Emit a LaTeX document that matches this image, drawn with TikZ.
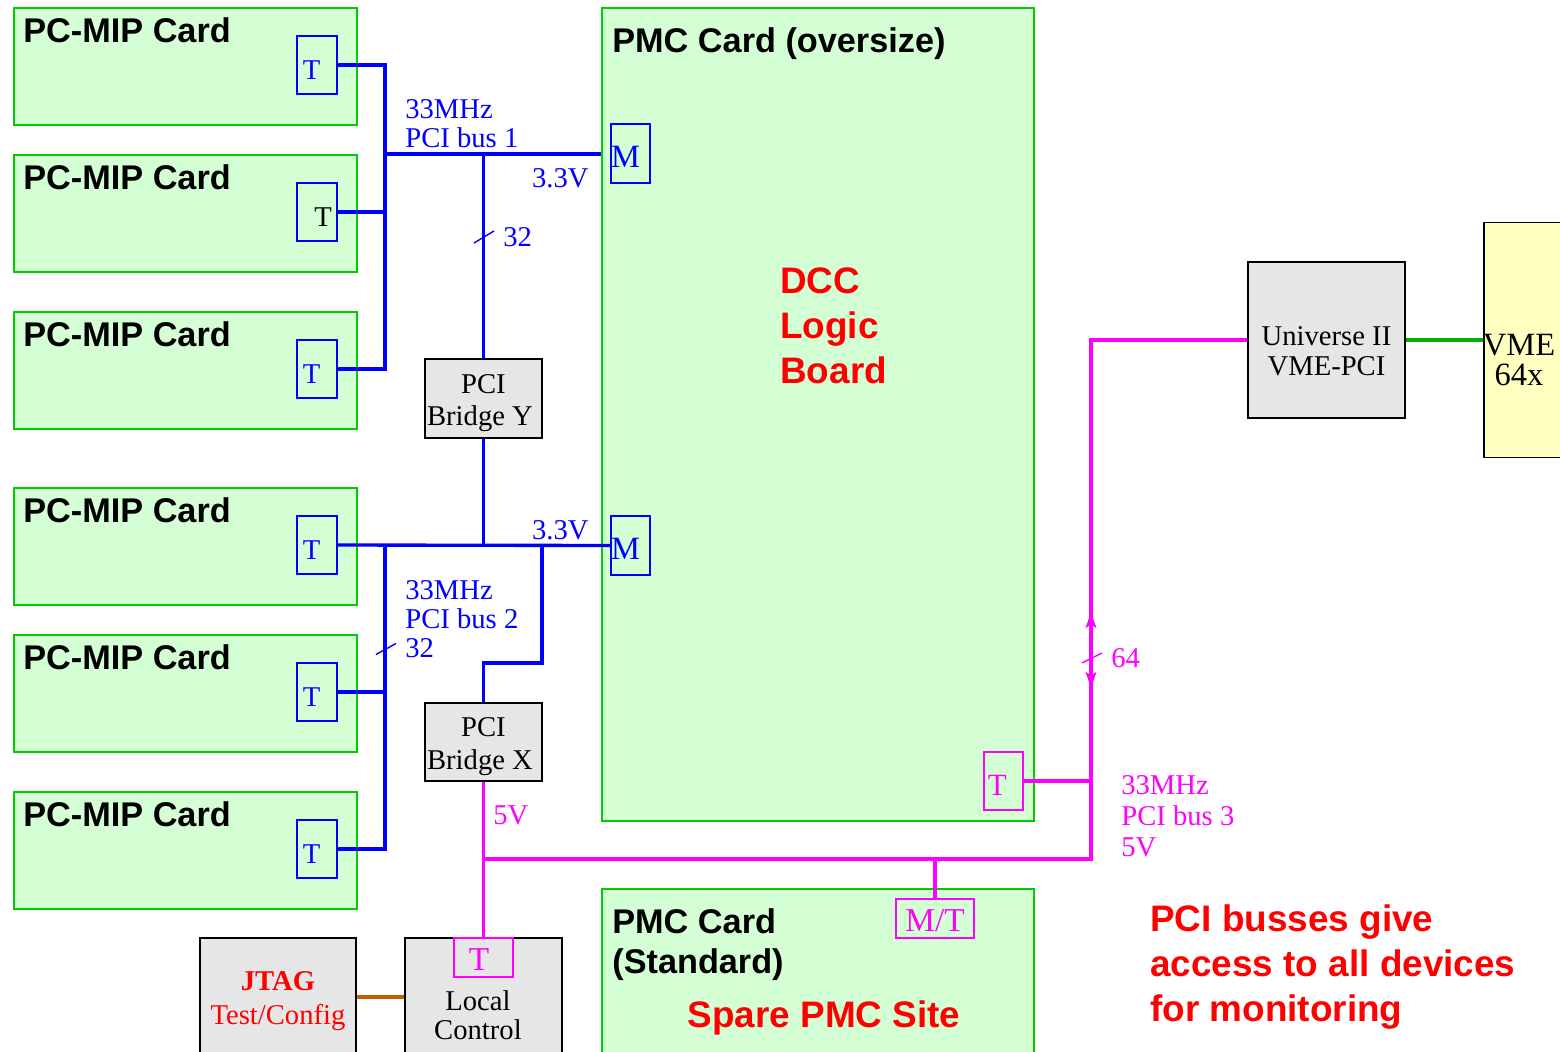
\documentclass[tikz,border=0pt]{standalone}
\usepackage{fontspec}
\setmainfont{Liberation Serif}
\setsansfont{Liberation Sans}
\usepackage{xcolor}
\usetikzlibrary{arrows.meta, positioning, calc}
\definecolor{brdgreen}{RGB}{0,204,0}
\definecolor{cardfill}{RGB}{212,255,212}
\definecolor{boxgray}{RGB}{230,230,230}
\definecolor{vmefill}{RGB}{255,255,192}
\definecolor{vmegreen}{RGB}{0,176,0}
\definecolor{jtagbrown}{RGB}{192,96,0}
\definecolor{busblue}{RGB}{0,0,255}
\definecolor{busmag}{RGB}{255,0,255}
\tikzset{
  card/.style={rectangle, draw=brdgreen, line width=1.1pt, fill=cardfill,
               inner sep=0pt, anchor=north west},
  cardtitle/.style={font=\fontsize{19.5}{22.7}\selectfont\sffamily\bfseries,
                    inner sep=0pt, anchor=west, align=left},
  redtitle/.style={font=\fontsize{21}{25.5}\selectfont\sffamily\bfseries,
                   text=red, inner sep=0pt, align=left},
  port/.style={rectangle, draw=busblue, line width=0.7pt, text=busblue, inner sep=0pt,
               text height=16pt, font=\fontsize{16.3}{16.5}\selectfont},
  mport/.style={port, draw=busmag, text=busmag, font=\fontsize{19}{19}\selectfont},
  chip/.style={rectangle, draw=black, line width=0.85pt, fill=boxgray,
               inner sep=0pt, align=center, font=\fontsize{16.3}{17.5}\selectfont},
  buslabel/.style={inner sep=0pt, align=left, font=\fontsize{16.3}{16.5}\selectfont},
  bus/.style={busblue, line width=1.9pt},
  pbus/.style={busmag, line width=1.9pt},
  slash/.style={line width=0.8pt},
  tips/.style={{Stealth[length=9pt,width=6pt,inset=2pt]}-{Stealth[length=9pt,width=6pt,inset=2pt]}},
}
\begin{document}
\begin{tikzpicture}[x=0.02cm, y=-0.02cm]
  \useasboundingbox (0,0) rectangle (1560,1052);
  % PC-MIP cards
  \foreach \i/\y/\tlab in {1/7/{T\hspace*{6pt}}, 2/154/{\color{black}\hspace*{7pt}T},
      3/311/{T\hspace*{6pt}}, 4/487/{T\hspace*{6pt}}, 5/634/{T\hspace*{6pt}}, 6/791/{T\hspace*{6pt}}} {
    \node[card, minimum width=6.86cm, minimum height=2.34cm] (c\i) at (13,\y) {};
    \node[cardtitle] (ct\i) at ([shift={(10,23)}]c\i.north west) {PC-MIP Card};
    \node[port, minimum width=0.8cm, minimum height=1.16cm] (t\i) at ([shift={(304,58)}]c\i.north west) {\tlab};
  }
  % PMC cards
  \node[card, minimum width=8.64cm, minimum height=16.26cm] (pmc) at (601,7) {};
  \node[cardtitle] (pmct) at ([shift={(11,37)}]pmc.north west) {PMC Card (oversize)};
  \node[redtitle, anchor=west] (dcc) at (780,326) {DCC\\Logic\\Board};
  \node[port, font=\fontsize{18.5}{18.5}\selectfont, minimum width=0.78cm, minimum height=1.18cm] (m1) at (630.5,153.5) {M\hspace*{5.6pt}};
  \node[port, font=\fontsize{18.5}{18.5}\selectfont, minimum width=0.78cm, minimum height=1.18cm] (m2) at (630.5,545.5) {M\hspace*{5.6pt}};
  \node[mport, font=\fontsize{17.6}{17.6}\selectfont, minimum width=0.78cm, minimum height=1.16cm] (tp) at (1003.5,781) {T\hspace*{7pt}};

  \node[card, minimum width=8.64cm, minimum height=3.6cm] (spare) at (601,888) {};
  \node[cardtitle] (sparet) at ([shift={(11,57)}]spare.north west) {PMC Card\\(Standard)};
  \node[redtitle] (sites) at (824,1018) {Spare PMC Site};
  \node[mport, text height=15pt, minimum width=1.56cm, minimum height=0.78cm] (mt) at (935,918.5) {M/T};

  % bridges and controllers
  \node[chip, font=\fontsize{16.3}{18.7}\selectfont, minimum width=2.34cm, minimum height=1.58cm] (bry) at (483.5,398.5) {\rule{0pt}{16pt}PCI\\Bridge Y\hspace*{4pt}};
  \node[chip, font=\fontsize{16.3}{18.7}\selectfont, minimum width=2.34cm, minimum height=1.56cm] (brx) at (483.5,742) {\rule{0pt}{16pt}PCI\\Bridge X\hspace*{4pt}};
  \node[chip, minimum width=3.14cm, minimum height=3.12cm] (uni) at (1326.5,340) {\rule{0pt}{23.5pt}Universe II\\VME-PCI};
  \node[chip, fill=vmefill, minimum width=2.6cm, minimum height=4.7cm, anchor=north west] (vme) at (1483,222) {};
  \node[buslabel, align=center, font=\fontsize{18.5}{17}\selectfont] (vmet) at (1519,360) {VME\\64x};
  \node[chip, text=red, font=\fontsize{16.3}{19.3}\selectfont, minimum width=3.12cm, minimum height=2.36cm] (jtag) at (278,997) {\rule{0pt}{15pt}\textbf{JTAG}\\Test/Config};
  \node[chip, minimum width=3.14cm, minimum height=2.36cm] (lc) at (483.5,997) {};
  \node[mport, text height=15pt, minimum width=1.18cm, minimum height=0.78cm] (lct) at (483.5,957.5) {T\hspace*{5pt}};
  \node[buslabel, align=center] (lctext) at (478,1015.5) {Local\\Control};

  % PCI bus 1
  \coordinate (a1) at (385,154);
  \draw[bus] (t1.east) -| (a1);
  \draw[bus] (t3.east) -| (a1);
  \draw[bus] (t2.east) -- (t2.east -| a1);
  \draw[bus] (a1) -- (a1 -| pmc.west);
  \draw[bus] (bry.north |- a1) -- (bry.north);
  \coordinate (s1) at (484,237);
  \draw[busblue, slash] ([shift={(-10,6)}]s1) -- ([shift={(10,-6)}]s1);
  \node[buslabel, text=busblue, anchor=west] (bus1lab) at (405,124) {33MHz\\PCI bus 1};
  \node[buslabel, text=busblue, anchor=east] (v1) at (589,178) {3.3V};
  \node[buslabel, text=busblue, anchor=west] (n1) at (503,237) {32};

  % PCI bus 2
  \coordinate (a2) at (385,545.5);
  \draw[bus] (t4.east) -- (m2.west);
  \draw[bus] (bry.south) -- (bry.south |- m2.west);
  \draw[bus] (a2) |- (t6.east);
  \draw[bus] (t5.east) -- (t5.east -| a2);
  \coordinate (k) at (542,663);
  \draw[bus] (k |- m2.west) -- (k) -| (brx.north);
  \coordinate (s2) at (386,649);
  \draw[busblue, slash] ([shift={(-10,5.5)}]s2) -- ([shift={(10,-5.5)}]s2);
  \node[buslabel, text=busblue, anchor=west] (bus2lab) at (405,604.5) {33MHz\\PCI bus 2};
  \node[buslabel, text=busblue, anchor=west] (n2) at (405,648) {32};
  \node[buslabel, text=busblue, anchor=east] (v2) at (589,530) {3.3V};

  % PCI bus 3
  \coordinate (p1) at (1091,859);
  \draw[pbus] (brx.south) -- (lct.north);
  \draw[pbus] (brx.south |- p1) -- (p1) |- (uni.west);
  \draw[pbus] (mt.north |- p1) -- (mt.north);
  \draw[pbus] (tp.east) -- (tp.east -| p1);
  \coordinate (w) at (1091,650);
  \draw[pbus, tips] ([shift={(0,38)}]w) -- ([shift={(0,-38)}]w);
  \coordinate (s3) at (1092,658);
  \draw[busmag, slash] ([shift={(-10,5)}]s3) -- ([shift={(10,-5)}]s3);
  \node[buslabel, text=busmag, anchor=west] (n3) at (1111,658) {64};
  \node[buslabel, text=busmag, anchor=west] (v3) at (493,815) {5V};
  \node[buslabel, text=busmag, anchor=west, font=\fontsize{16.3}{17.5}\selectfont] (bus3lab) at (1121,816) {33MHz\\PCI bus 3\\5V};

  % VME and JTAG links
  \draw[vmegreen, line width=1.9pt] (uni.east) -- (uni.east -| vme.west);
  \draw[jtagbrown, line width=1.9pt] (jtag.east) -- (lc.west);

  \node[redtitle, anchor=west] (note) at (1150,967) {PCI busses give\\access to all devices\\for monitoring};
\end{tikzpicture}
\end{document}
